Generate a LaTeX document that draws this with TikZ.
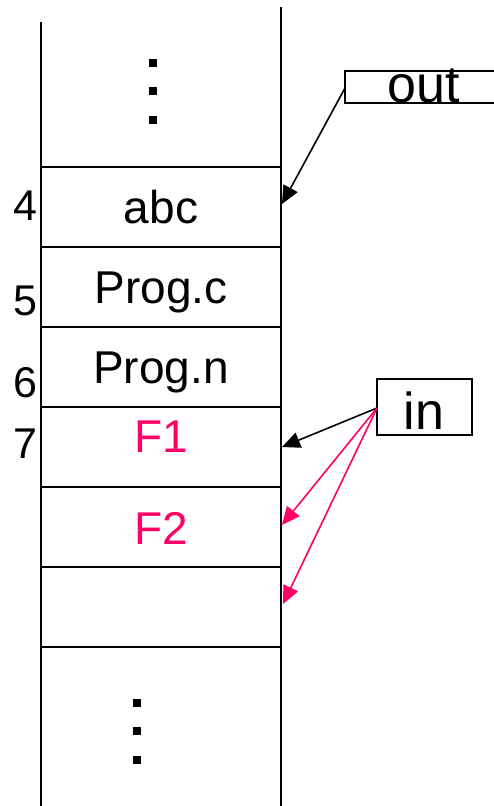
\documentclass[tikz,border=0pt]{standalone}
\usepackage{fontspec}
\setmainfont{Liberation Sans}
\usetikzlibrary{arrows.meta}
\definecolor{hot}{RGB}{255,0,102}
\tikzset{
  wall/.style={line width=2pt},
  shelf/.style={line width=2.4pt},
  cell/.style={font=\fontsize{46}{46}\selectfont, anchor=base},
  idx/.style={font=\fontsize{43}{43}\selectfont, anchor=base},
  tag/.style={font=\fontsize{52}{52}\selectfont, anchor=base},
  tagbox/.style={draw, line width=1.4pt},
  ptr/.style={line width=1.6pt, -{Triangle[length=18pt,width=16pt]}},
  dot/.style={fill=black, minimum size=8pt, inner sep=0pt}
}
\begin{document}
\begin{tikzpicture}[x=1pt,y=-1pt]
\useasboundingbox (0,0) rectangle (493,806);

% the two walls of the table
\draw[wall] (41,22) -- (41,806);
\draw[wall] (281,7) -- (281,806);

% row separators
\foreach \y in {167,247,327,407,487,567,647}
  \draw[shelf] (41,\y) -- (281,\y);

% ellipsis above and below
\foreach \y/\n in {63/t1,91/t2,120/t3}
  \node[dot] (\n) at (153,\y) {};
\foreach \y/\n in {703/b1,731/b2,760/b3}
  \node[dot] (\n) at (137,\y) {};

% cell contents
\node[cell] (abc) at (161,223) {abc};
\node[cell] (progc) at (161,303) {Prog.c};
\node[cell] (progn) at (161,383) {Prog.n};
\node[cell, text=hot] (f1) at (161,452) {F1};
\node[cell, text=hot] (f2) at (161,544) {F2};

% row numbers
\node[idx] (n4) at (25,220) {4};
\node[idx] (n5) at (25,315) {5};
\node[idx] (n6) at (25,397) {6};
\node[idx] (n7) at (25,458) {7};

% pointer boxes
\draw[tagbox] (500,71) -- (345,71) -- (345,103) -- (500,103);
\coordinate (outsrc) at (345,88);
\node[tag] (out) at (424,102) {out};

\node[tagbox, minimum width=95pt, minimum height=56pt, inner sep=0pt] (inbox) at (424.5,407) {};
\node[tag] (in) at (424,429) {in};
\coordinate (insrc) at (377,408);

% pointer targets on the right wall
\coordinate (tabc) at (282,204);
\coordinate (tf1) at (282,447);
\coordinate (tf2) at (282,525);
\coordinate (tf3) at (283,604);

\draw[ptr] (outsrc) -- (tabc);
\draw[ptr] (insrc) -- (tf1);
\draw[ptr, draw=hot, fill=hot] (insrc) -- (tf2);
\draw[ptr, draw=hot, fill=hot] (insrc) -- (tf3);
\end{tikzpicture}
\end{document}
